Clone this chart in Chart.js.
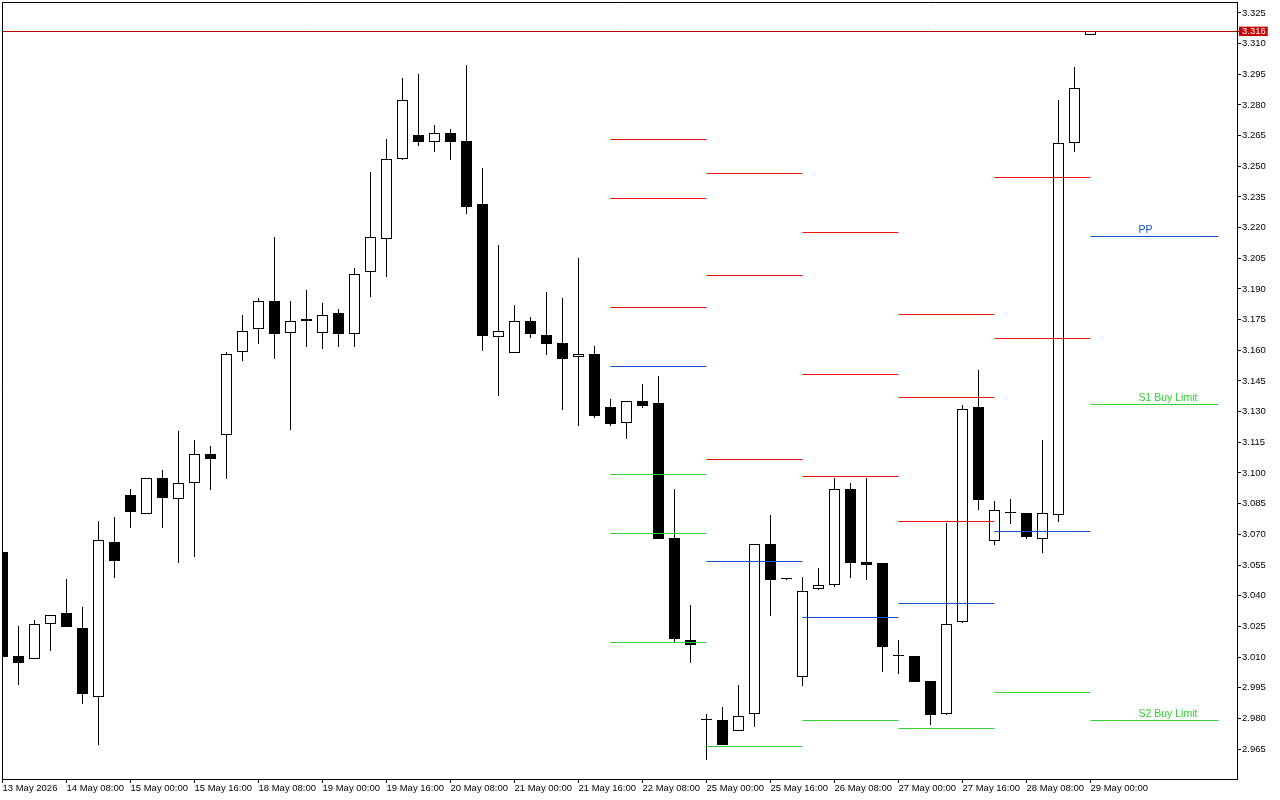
<!DOCTYPE html>
<html><head><meta charset="utf-8">
<script src="https://cdn.jsdelivr.net/npm/chart.js@4.4.1/dist/chart.umd.min.js"></script>
<style>html,body{margin:0;padding:0;background:#fff;}canvas{display:block;}</style>
</head><body>
<canvas id="c" width="1280" height="800"></canvas>
<script>
// ---- data (H4 candles, index 0 = 13 May 2026 16:00) ----
const openP  = [3.0614,3.0105,3.0092,3.0260,3.0314,3.0241,2.9903,3.0661,3.0891,3.0801,
                3.0974,3.0871,3.0950,3.1092,3.1184,3.1590,3.1703,3.1840,3.1683,3.1742,
                3.1683,3.1782,3.1681,3.1982,3.2143,3.2534,3.2652,3.2620,3.2661,3.2624,
                3.2316,3.1664,3.1588,3.1743,3.1673,3.1634,3.1569,3.1582,3.1323,3.1243,
                3.1351,3.1341,3.0682,3.0182,2.9791,2.9791,2.9740,2.9820,3.0652,3.0480,
                3.0001,3.0432,3.0451,3.0920,3.0564,3.0558,3.0104,3.0104,2.9982,2.9820,
                3.0270,3.1321,3.0669,3.0803,3.0804,3.0679,3.0793,3.2612,3.3141];
const highP  = [3.0614,3.0251,3.0281,3.0306,3.0482,3.0344,3.0764,3.0785,3.0920,3.0976,
                3.1013,3.1204,3.1160,3.1131,3.1590,3.1771,3.1854,3.2154,3.1840,3.1893,
                3.1831,3.1802,3.2003,3.2472,3.2633,3.2932,3.2951,3.2702,3.2682,3.2995,
                3.2492,3.2115,3.1822,3.1763,3.1885,3.1856,3.2050,3.1620,3.1362,3.1353,
                3.1435,3.1474,3.0922,3.0355,2.9822,2.9856,2.9963,3.0655,3.0795,3.0480,
                3.0490,3.0536,3.0976,3.0950,3.0976,3.0560,3.0182,3.0105,2.9983,3.0756,
                3.1333,3.1504,3.0863,3.0873,3.0805,3.1162,3.2824,3.2984,3.3160];
const lowP   = [3.0100,2.9964,3.0090,3.0131,3.0245,2.9872,2.9672,3.0488,3.0732,3.0799,
                3.0732,3.0561,3.0591,3.0918,3.0972,3.1549,3.1632,3.1559,3.1212,3.1618,
                3.1608,3.1618,3.1618,3.1862,3.1960,3.2530,3.2601,3.2571,3.2532,3.2268,
                3.1598,3.1378,3.1585,3.1662,3.1579,3.1310,3.1231,3.1270,3.1231,3.1168,
                3.1319,3.0677,3.0175,3.0073,2.9597,2.9670,2.9738,2.9759,3.0302,3.0480,
                2.9960,3.0430,3.0441,3.0488,3.0477,3.0029,3.0019,2.9978,2.9769,2.9818,
                3.0268,3.0820,3.0649,3.0752,3.0679,3.0610,3.0762,3.2571,3.3141];
const closeP = [3.0100,3.0071,3.0260,3.0304,3.0249,2.9921,3.0671,3.0571,3.0811,3.0974,
                3.0879,3.0950,3.1092,3.1070,3.1580,3.1693,3.1840,3.1681,3.1742,3.1752,
                3.1771,3.1681,3.1972,3.2153,3.2536,3.2823,3.2620,3.2661,3.2620,3.2302,
                3.1671,3.1693,3.1743,3.1681,3.1632,3.1559,3.1580,3.1279,3.1241,3.1351,
                3.1329,3.0679,3.0190,3.0161,2.9791,2.9672,2.9810,3.0652,3.0478,3.0480,
                3.0422,3.0451,3.0920,3.0561,3.0551,3.0151,3.0104,2.9980,2.9818,3.0262,
                3.1312,3.0869,3.0820,3.0803,3.0688,3.0803,3.2612,3.2881,3.3160];

const xTickIdx    = [0,4,8,12,16,20,24,28,32,36,40,44,48,52,56,60,64,68];
const xTickLabels = ['13 May 2026','14 May 08:00','15 May 00:00','15 May 16:00','18 May 08:00',
                     '19 May 00:00','19 May 16:00','20 May 08:00','21 May 00:00','21 May 16:00',
                     '22 May 08:00','25 May 00:00','25 May 16:00','26 May 08:00','27 May 00:00',
                     '27 May 16:00','28 May 08:00','29 May 00:00'];
const yTickValues = [2.965,2.980,2.995,3.010,3.025,3.040,3.055,3.070,3.085,3.100,3.115,3.130,
                     3.145,3.160,3.175,3.190,3.205,3.220,3.235,3.250,3.265,3.280,3.295,3.310,3.325];
const currentPrice = 3.316;

// daily pivot levels (one entry per day segment)
const dayStart = [38,44,50,56,62,68];
const dayEnd   = [44,50,56,62,68,76];
const lvR3 = [3.2632,3.2467,3.2174,3.1773,null,null];
const lvR2 = [3.2343,3.1968,3.1483,3.1370,3.2446,null];
const lvR1 = [3.1810,3.1067,3.0984,3.0764,3.1660,null];
const lvPP = [3.1522,3.0568,3.0294,3.0363,3.0715,3.2159];
const lvS1 = [3.0995,2.9663,2.9791,2.9751,2.9927,3.1337];
const lvS2 = [3.0702,null,null,null,null,2.9791];
const lvS3 = [3.0173,null,null,null,null,null];
const levelTextIdx = 71;
const levelTexts = [
  {text:'PP', value:3.2159, color:'#1a4fd0'},
  {text:'S1 Buy Limit', value:3.1337, color:'#32cd32'},
  {text:'S2 Buy Limit', value:2.9791, color:'#32cd32'}
];

// ---- styling ----
const RED = '#f01414', BLUE = '#1a4fd0', GREEN = '#32d232';
const FONT = '"Liberation Sans", Arial, sans-serif';
const idx = openP.map((_, i) => i);

function segments(levels) {
  const pts = [];
  levels.forEach(arr => arr.forEach((v, d) => {
    if (v === null) return;
    pts.push({x: dayStart[d], y: v}, {x: dayEnd[d], y: v}, {x: dayEnd[d], y: null});
  }));
  return pts;
}

const bodyColors = idx.map(i => closeP[i] > openP[i] ? '#ffffff' : '#000000');

// snap computed element positions to the pixel grid for crisp 1px marks
const pixelSnap = {
  id: 'pixelSnap',
  afterDatasetsUpdate(chart) {
    chart.data.datasets.forEach((ds, di) => {
      const meta = chart.getDatasetMeta(di);
      if (meta.type === 'line') {
        meta.data.forEach(p => { if (isFinite(p.y)) p.y = Math.round(p.y - 0.5) + 0.5; });
      } else if (meta.type === 'bar') {
        meta.data.forEach(b => {
          let y = Math.round(b.y), base = Math.round(b.base);
          if (Math.abs(y - base) < 1) base = y + 1;
          b.y = y; b.base = base;
        });
      }
    });
  }
};

const overlay = {
  id: 'overlay',
  afterDatasetsDraw(chart) {
    const {ctx, chartArea: a, scales: {x, y}} = chart;
    ctx.save();
    ctx.strokeStyle = '#000'; ctx.lineWidth = 1;
    ctx.beginPath();
    ctx.moveTo(a.left + 0.5, a.bottom);
    ctx.lineTo(a.left + 0.5, a.top + 0.5);
    ctx.lineTo(a.right, a.top + 0.5);
    ctx.stroke();
    ctx.font = '10.5px ' + FONT;
    ctx.textBaseline = 'alphabetic';
    ctx.textAlign = 'left';
    levelTexts.forEach(t => {
      ctx.fillStyle = t.color;
      ctx.fillText(t.text, x.getPixelForValue(levelTextIdx), Math.round(y.getPixelForValue(t.value)) - 3);
    });
    ctx.restore();
  }
};

const xMin = -0.03125, xMax = 77.15625;
const yMin = 2.95034, yMax = 3.33035;

new Chart(document.getElementById('c'), {
  type: 'bar',
  data: {
    datasets: [
      {type:'line', label:'current', data:[{x:xMin,y:currentPrice},{x:xMax,y:currentPrice}],
       borderColor:'#b40000', borderWidth:1, pointRadius:0, order:0},
      {type:'line', label:'R', data:segments([lvR3,lvR2,lvR1]), borderColor:RED, borderWidth:1,
       pointRadius:0, spanGaps:false, order:0},
      {type:'line', label:'PP', data:segments([lvPP]), borderColor:BLUE, borderWidth:1,
       pointRadius:0, spanGaps:false, order:0},
      {type:'line', label:'S', data:segments([lvS1,lvS2,lvS3]), borderColor:GREEN, borderWidth:1,
       pointRadius:0, spanGaps:false, order:0},
      {type:'bar', label:'body', data: idx.map(i => ({x:i, y:[openP[i], closeP[i]]})),
       backgroundColor: bodyColors, borderColor:'#000', borderWidth:1, borderSkipped:false,
       barThickness:11, grouped:false, minBarLength:1, inflateAmount:0, order:1},
      {type:'bar', label:'wick', data: idx.map(i => ({x:i, y:[lowP[i], highP[i]]})),
       backgroundColor:'#000', borderWidth:0, barThickness:1, grouped:false, inflateAmount:0, order:2}
    ]
  },
  options: {
    responsive:false, animation:false, devicePixelRatio:1,
    layout:{padding:{left:2, top:2, right:0, bottom:0}},
    plugins:{legend:{display:false}, tooltip:{enabled:false}},
    scales:{
      x:{type:'linear', position:'bottom', min:xMin, max:xMax, offset:false,
         afterBuildTicks: s => { s.ticks = xTickIdx.map(v => ({value:v})); },
         afterFit: s => { s.height = 21; s.paddingLeft = 0; s.paddingRight = 0; },
         grid:{drawOnChartArea:false, offset:false, tickLength:4, color:'#000', tickColor:'#000'},
         border:{display:true, color:'#000'},
         ticks:{autoSkip:false, maxRotation:0, align:'start', padding:0, color:'#000',
                font:{family:FONT, size:9.5}, callback:(v, i) => xTickLabels[i]}},
      y:{type:'linear', position:'right', min:yMin, max:yMax,
         afterBuildTicks: s => { s.ticks = [...yTickValues, currentPrice].sort((a,b)=>a-b).map(v => ({value:v})); },
         afterFit: s => { s.width = 43; s.paddingTop = 0; s.paddingBottom = 0; },
         grid:{drawOnChartArea:false, tickLength:4, color:'#000',
               tickColor: c => (c.tick && c.tick.value === currentPrice) ? '#c40000' : '#000'},
         border:{display:true, color:'#000'},
         ticks:{autoSkip:false, padding:1, font:{family:FONT, size:9.5},
                color: c => (c.tick && c.tick.value === currentPrice) ? '#ffffff' : '#000000',
                showLabelBackdrop: c => !!(c.tick && c.tick.value === currentPrice),
                backdropColor:'#c40000', backdropPadding:{top:-1, bottom:-1, left:3, right:2},
                callback: v => v.toFixed(3)}}
    }
  },
  plugins:[pixelSnap, overlay]
});
</script>
</body></html>
